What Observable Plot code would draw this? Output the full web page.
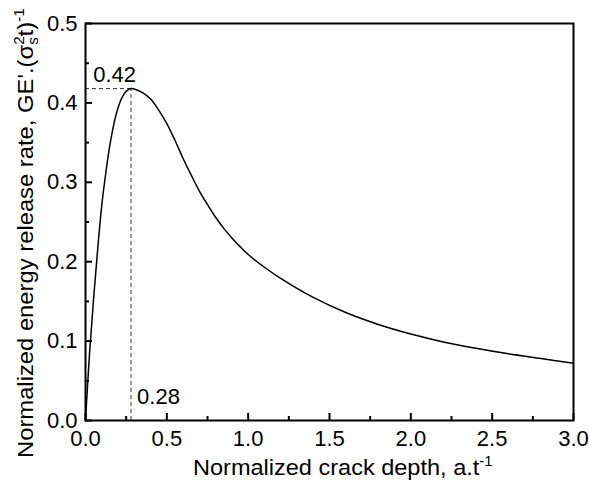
<!DOCTYPE html>
<html><head><meta charset="utf-8">
<script src="https://cdn.jsdelivr.net/npm/d3@7"></script>
<script src="https://cdn.jsdelivr.net/npm/@observablehq/plot@0.6"></script>
<style>
body{margin:0;background:#fff}
svg{font-family:"Liberation Sans",Arial,sans-serif}
</style>
</head><body><div id="chart"></div>
<script>
const crackDepth = [0, 0.025, 0.05, 0.075, 0.10, 0.125, 0.15, 0.175, 0.20, 0.225, 0.25, 0.28, 0.30, 0.35, 0.40, 0.45, 0.50, 0.55, 0.60, 0.65, 0.70, 0.75, 0.80, 0.85, 0.90, 0.95, 1.00, 1.10, 1.20, 1.40, 1.60, 1.80, 2.00, 2.20, 2.40, 2.60, 2.80, 3.00];
const energyRate = [0, 0.085, 0.154, 0.216, 0.271, 0.312, 0.347, 0.374, 0.394, 0.407, 0.4145, 0.418, 0.4175, 0.413, 0.405, 0.391, 0.374, 0.353, 0.330, 0.309, 0.289, 0.272, 0.256, 0.242, 0.230, 0.219, 0.209, 0.193, 0.179, 0.155, 0.136, 0.121, 0.109, 0.099, 0.091, 0.084, 0.078, 0.072];
const xMajorTicks = [0, 0.5, 1, 1.5, 2, 2.5, 3];
const xMinorTicks = [0.25, 0.75, 1.25, 1.75, 2.25, 2.75];
const yMajorTicks = [0, 0.1, 0.2, 0.3, 0.4, 0.5];
const yMinorTicks = [0.05, 0.15, 0.25, 0.35, 0.45];
const peakX = [0.28];
const peakY = [0.418];
const peakXLabel = ["0.28"];
const peakYLabel = ["0.42"];
const xTitle = "Normalized crack depth, a.t";
const yTitle = "Normalized energy release rate, GE'.(σ";

const W = 589, H = 488, mL = 85, mR = 16, mT = 23, mB = 68;
const plotW = W - mL - mR, plotH = H - mT - mB;
const data = crackDepth.map((x, i) => ({x, y: energyRate[i]}));
const fmt = d3.format(".1f");

const chart = Plot.plot({
  width: W, height: H,
  marginLeft: mL, marginRight: mR, marginTop: mT, marginBottom: mB,
  style: {fontFamily: '"Liberation Sans", Arial, sans-serif', fontSize: "22px", color: "#000", background: "#fff"},
  x: {domain: [0, 3]},
  y: {domain: [0, 0.5]},
  marks: [
    Plot.ruleY(peakY, {y: d => d, x1: 0, x2: peakX[0], stroke: "#333", strokeWidth: 1, strokeDasharray: "4,3"}),
    Plot.ruleX(peakX, {x: d => d, y1: 0, y2: peakY[0], stroke: "#333", strokeWidth: 1, strokeDasharray: "4,3"}),
    Plot.line(data, {x: "x", y: "y", curve: "catmull-rom", stroke: "#000", strokeWidth: 1.5}),
    Plot.text(peakYLabel, {x: peakX[0], y: peakY[0], text: d => d, textAnchor: "end", dx: 5, dy: -14, fontSize: 22, fill: "#000"}),
    Plot.text(peakXLabel, {x: peakX[0], y: 0, text: d => d, textAnchor: "start", dx: 6, dy: -24, fontSize: 22, fill: "#000"}),
    // tick labels
    Plot.axisX({ticks: xMajorTicks, tickSize: 0, tickPadding: 10, tickFormat: fmt, label: null, fontSize: 22}),
    Plot.axisY({ticks: yMajorTicks, tickSize: 0, tickPadding: 8, tickFormat: fmt, label: null, fontSize: 22}),
    // inward ticks
    Plot.tickX(xMajorTicks, {x: d => d, insetTop: plotH - 7, stroke: "#000", strokeWidth: 2}),
    Plot.tickX(xMinorTicks, {x: d => d, insetTop: plotH - 4, stroke: "#000", strokeWidth: 2}),
    Plot.tickY(yMajorTicks, {y: d => d, insetRight: plotW - 7, stroke: "#000", strokeWidth: 2}),
    Plot.tickY(yMinorTicks, {y: d => d, insetRight: plotW - 4, stroke: "#000", strokeWidth: 2}),
    Plot.frame({stroke: "#000", strokeWidth: 2})
  ]
});
document.getElementById("chart").appendChild(chart);

const svg = d3.select(chart);
// x title
const xt = svg.append("text").attr("font-size", 22).attr("fill", "#000").attr("text-anchor", "start");
xt.append("tspan").text(xTitle);
xt.append("tspan").attr("font-size", 14).attr("dy", -9).text("-1");
const xw = xt.node().getBBox().width;
xt.attr("transform", `translate(193,475) scale(${300 / xw},1)`);

// y title
const yt = svg.append("text").attr("font-size", 22).attr("fill", "#000").attr("text-anchor", "start");
yt.append("tspan").text(yTitle);
yt.append("tspan").attr("font-size", 14).attr("dy", 5).text("s");
yt.append("tspan").attr("font-size", 14).attr("dx", -7).attr("dy", -14).text("2");
yt.append("tspan").attr("dy", 9).text("t)");
yt.append("tspan").attr("font-size", 14).attr("dy", -9).text("-1");
const yw = yt.node().getBBox().width;
yt.attr("transform", `translate(33,458) rotate(-90) scale(${450 / yw},1)`);
</script>
</body></html>
